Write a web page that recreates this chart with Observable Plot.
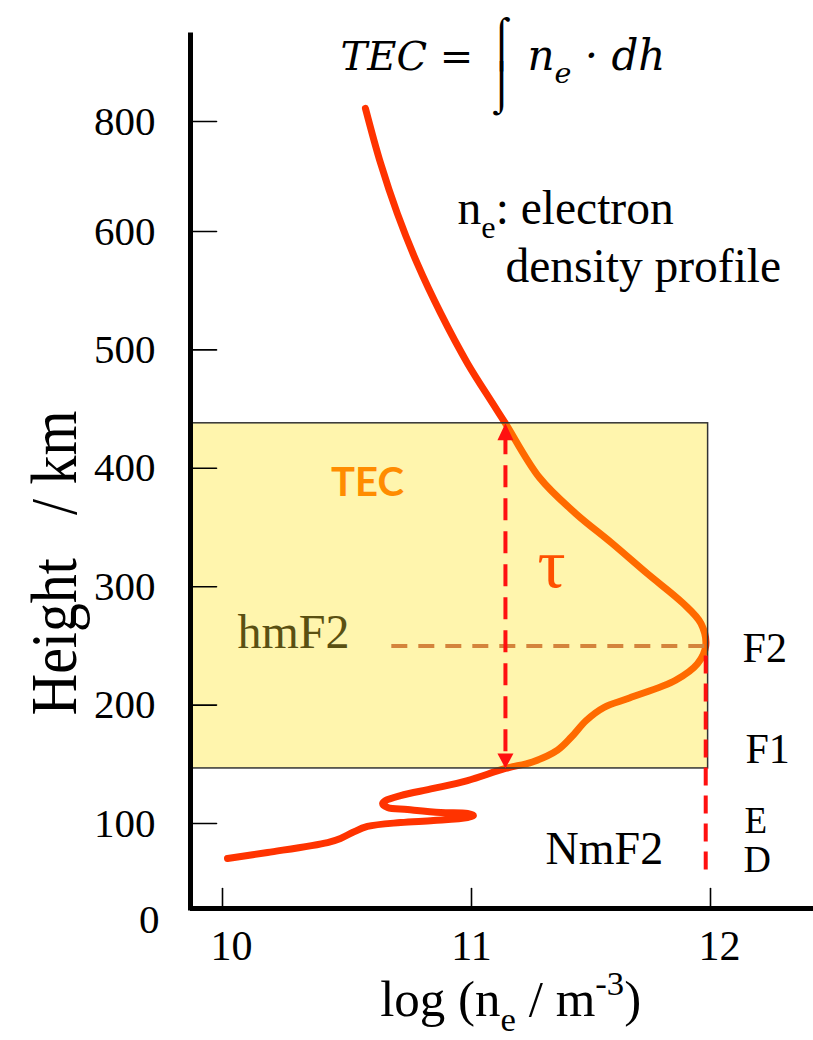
<!DOCTYPE html>
<html>
<head>
<meta charset="utf-8">
<script src="https://cdn.jsdelivr.net/npm/d3@7"></script>
<script src="https://cdn.jsdelivr.net/npm/@observablehq/plot@0.6"></script>
<style>
  html, body { margin: 0; padding: 0; background: #fff; }
  #chart svg text { white-space: pre; }
</style>
</head>
<body>
<div id="chart"></div>
<script>
// ---------- data ----------
// electron density profile, ordered along the drawn path (top -> bottom)
const profileLogNe = [10.574, 10.635, 10.702, 10.782, 10.876, 10.983, 11.088, 11.142, 11.285, 11.435,
  11.586, 11.736, 11.885, 11.960, 11.980, 11.946, 11.854, 11.661, 11.554, 11.480,
  11.418, 11.360, 11.255, 11.142, 10.984, 10.847, 10.715, 10.655, 10.643, 10.663,
  10.743, 10.876, 10.984, 11.008, 10.984, 10.847, 10.715, 10.582, 10.522, 10.474,
  10.422, 10.181, 10.020];
const profileHeight = [824, 724, 633, 573, 531, 489, 455, 438, 392, 362,
  337, 311, 286, 269, 250, 235, 221, 206, 198, 187,
  173, 162, 152, 146.5, 136.3, 129.6, 123.6, 119.4, 116.9, 113.5,
  111.8, 109.3, 108.4, 106.8, 105.1, 102.5, 100.8, 96.5, 89.4, 82.4,
  77.6, 65.9, 58.8];

const xTicks = [10, 11, 12];
const yTicks = [100, 200, 300, 400, 500, 600, 800];
const yZeroTick = [0];

const tecBottom = 146.5;   // km
const tecTop = 438;        // km
const tauLogNe = 11.142;
const hmF2 = 250;          // km
const NmF2 = 11.98;        // log ne
const hmF2LineStart = 10.68;
const NmF2LineEnd = 36;    // km
const tecBoxRight = 11.99;

// ---------- schematic (non-uniform) axes ----------
const xStops = [9.8715, 10, 11, 12, 12.431];
const xPixels = [190, 222, 471, 710, 813];
const yStops = [0, 100, 600, 800, 956];
const yPixels = [908, 823, 231, 121, 35];

const profile = profileLogNe.map((x, i) => ({x, h: profileHeight[i]}));

const serif = "Liberation Serif, Times New Roman, serif";
const mathFont = "DejaVu Serif, serif";
const tickShape = {draw(context, l) { context.moveTo(0, 0); context.lineTo(0, -l); }};

const txt = (data, opts) => Plot.text(data, {x: "x", y: "h", text: "t", fontFamily: serif, lineAnchor: "bottom", textAnchor: "start", ...opts});

const chart = Plot.plot({
  width: 813,
  height: 1040,
  marginLeft: 190,
  marginRight: 0,
  marginTop: 35,
  marginBottom: 132,
  style: {background: "#fff", fontFamily: serif, color: "#000"},
  x: {type: "linear", domain: xStops, range: xPixels},
  y: {type: "linear", domain: yStops, range: yPixels},
  marks: [
    // profile curve (under the translucent TEC box)
    Plot.line(profile, {x: "x", y: "h", stroke: "#FF3300", strokeWidth: 7, curve: "catmull-rom", strokeLinejoin: "round"}),
    // TEC box
    Plot.rect([{x1: xStops[0], x2: tecBoxRight, y1: tecBottom, y2: tecTop}],
      {x1: "x1", x2: "x2", y1: "y1", y2: "y2", fill: "#FFDF00", fillOpacity: 0.32, stroke: "#333", strokeWidth: 1.5}),
    // hmF2 dashed line
    Plot.ruleY([hmF2], {x1: hmF2LineStart, x2: NmF2, stroke: "#D4843C", strokeWidth: 4, strokeDasharray: "16,11"}),
    // NmF2 dashed line
    Plot.ruleX([NmF2], {y1: hmF2, y2: NmF2LineEnd, stroke: "#FF1010", strokeWidth: 4, strokeDasharray: "18,10", strokeDashoffset: -10}),
    // tau double arrow
    Plot.ruleX([tauLogNe], {y1: tecTop - 8, y2: tecBottom + 8, stroke: "#FF1010", strokeWidth: 4, strokeDasharray: "22,11"}),
    Plot.vector([{x: tauLogNe, h: tecTop}], {x: "x", y: "h", rotate: 0, length: 17, r: 8, shape: "spike", anchor: "end", fill: "#FF1010", stroke: "none"}),
    Plot.vector([{x: tauLogNe, h: tecBottom}], {x: "x", y: "h", rotate: 180, length: 15, r: 8, shape: "spike", anchor: "end", fill: "#FF1010", stroke: "none"}),
    // axes lines
    Plot.ruleX([xStops[0]], {stroke: "#000", strokeWidth: 5, strokeLinecap: "square"}),
    Plot.ruleY([yStops[0]], {stroke: "#000", strokeWidth: 5}),
    // inner ticks
    Plot.vector(yTicks, {y: d => d, frameAnchor: "left", rotate: 90, length: 26, anchor: "start", shape: tickShape, stroke: "#000", strokeWidth: 1.6}),
    Plot.vector(xTicks, {x: d => d, frameAnchor: "bottom", rotate: 0, length: 20, anchor: "start", shape: tickShape, stroke: "#000", strokeWidth: 1.6}),
    // tick labels
    Plot.axisY(yTicks, {anchor: "left", tickSize: 0, tickPadding: 35, fontSize: 41, label: null, tickFormat: d => String(d)}),
    Plot.axisY(yZeroTick, {anchor: "left", tickSize: 0, tickPadding: 31, dy: 11, fontSize: 41, label: null, tickFormat: d => String(d)}),
    Plot.axisX(xTicks.filter(d => d !== 11), {anchor: "bottom", tickSize: 0, tickPadding: 22, dx: 9, fontSize: 42, label: null, tickFormat: d => String(d)}),
    Plot.axisX(xTicks.filter(d => d === 11), {anchor: "bottom", tickSize: 0, tickPadding: 22, fontSize: 42, label: null, tickFormat: d => String(d)}),
    // axis titles
    Plot.text([{t: "Height\u00a0\u00a0 / km", h: 320}], {y: "h", text: "t", frameAnchor: "left", dx: -115, rotate: -90, textAnchor: "middle", lineAnchor: "bottom", fontSize: 66, fontFamily: serif}),
    Plot.text([{t: "log (n_{e} / m^{-3})", x: 11.164}], {x: "x", text: "t", frameAnchor: "bottom", dy: 107, textAnchor: "middle", lineAnchor: "bottom", fontSize: 51, fontFamily: serif}),
    // formula
    txt([{t: "TEC =", x: 10.474, h: 892.7}], {fontSize: 40, fontStyle: "italic", fontFamily: mathFont}),
    txt([{t: "\u2320\n\u2321", x: 11.126, h: 903}], {fontSize: 48, lineHeight: 0.92, textAnchor: "middle", lineAnchor: "middle", fontFamily: serif}),
    txt([{t: "n_{e} \u00B7 dh", x: 11.234, h: 892.7}], {fontSize: 42, fontStyle: "italic", fontFamily: mathFont}),
    // annotations
    txt([{t: "n_{e}: electron", x: 10.944, h: 614.5}], {fontSize: 47.5}),
    txt([{t: "density profile", x: 11.142, h: 557}], {fontSize: 47.5}),
    txt([{t: "hmF2", x: 10.06, h: 248.6}], {fontSize: 48, fill: "#5A5012"}),
    txt([{t: "F2", x: 12.134, h: 236}], {fontSize: 42}),
    txt([{t: "F1", x: 12.146, h: 151.5}], {fontSize: 42}),
    txt([{t: "E", x: 12.142, h: 88.5}], {fontSize: 37}),
    txt([{t: "D", x: 12.138, h: 42.4}], {fontSize: 38}),
    txt([{t: "NmF2", x: 11.31, h: 52.9}], {fontSize: 46}),
    txt([{t: "TEC", x: 10.582, h: 377}], {fontSize: 40, textAnchor: "middle", fontFamily: "Lato, Open Sans, sans-serif", fontWeight: "bold", fill: "#FF8C00"}),
    txt([{t: "\u03C4", x: 11.335, h: 300}], {fontSize: 70, textAnchor: "middle", fill: "#FF5000"})
  ]
});

document.getElementById("chart").append(chart);

// the y title is drawn with tall, slightly condensed glyphs as in the original slide
chart.querySelectorAll("text").forEach(t => {
  if (t.textContent.startsWith("Height")) {
    t.setAttribute("textLength", 305);
    t.setAttribute("lengthAdjust", "spacingAndGlyphs");
  }
});

// turn _{..} / ^{..} markup into sub/superscript tspans
function richify(root) {
  const NS = "http://www.w3.org/2000/svg";
  root.querySelectorAll("text").forEach(t => {
    const s = t.textContent;
    if (!/[_^]\{/.test(s)) return;
    const fs = parseFloat(getComputedStyle(t).fontSize) || 40;
    while (t.firstChild) t.removeChild(t.firstChild);
    const re = /([_^])\{([^}]*)\}/g;
    let last = 0, m, shift = 0;
    const add = (str, dy, small) => {
      const ts = document.createElementNS(NS, "tspan");
      ts.textContent = str;
      if (dy) ts.setAttribute("dy", dy);
      if (small) ts.setAttribute("font-size", fs * 0.68);
      t.appendChild(ts);
    };
    while ((m = re.exec(s))) {
      if (m.index > last) { add(s.slice(last, m.index), -shift, false); shift = 0; }
      const d = m[1] === "_" ? fs * 0.3 : -fs * 0.4;
      add(m[2], d - shift, true);
      shift = d;
      last = re.lastIndex;
    }
    if (last < s.length) add(s.slice(last), -shift, false);
  });
}
richify(chart);
</script>
</body>
</html>
